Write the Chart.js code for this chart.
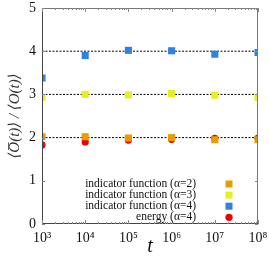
<!DOCTYPE html>
<html>
<head>
<meta charset="utf-8">
<script src="https://cdn.jsdelivr.net/npm/chart.js@4/dist/chart.umd.min.js"></script>
<style>
  html, body { margin: 0; padding: 0; background: #fff; }
  #wrap { width: 269px; height: 259px; }
</style>
</head>
<body>
<div id="wrap"><canvas id="c"></canvas></div>
<script>
// data
const times = [1e3, 1e4, 1e5, 1e6, 1e7, 1e8]
const indAlpha2 = [2.02, 2.02, 1.99, 2.00, 1.95, 1.95]
const indAlpha3 = [2.93, 3.00, 2.99, 3.02, 2.98, 2.93]
const indAlpha4 = [3.38, 3.90, 4.02, 4.01, 3.93, 3.97]
const energyAlpha4 = [1.83, 1.90, 1.94, 1.96, 1.98, 1.99]
const refLevels = [2, 3, 4]
const yTicks = [0, 1, 2, 3, 4, 5]
const sup = { 3: '³', 4: '⁴', 5: '⁵', 6: '⁶', 7: '⁷', 8: '⁸' }

const serif = "'Liberation Serif', 'DejaVu Serif', serif"

const series = [
    { label: 'indicator function (\u03b1=2)', data: indAlpha2, color: '#e99c00', style: 'rect', r: 5 },
    { label: 'indicator function (\u03b1=3)', data: indAlpha3, color: '#e6f01c', style: 'rect', r: 5 },
    { label: 'indicator function (\u03b1=4)', data: indAlpha4, color: '#2c82e6', style: 'rect', r: 5 },
    { label: 'energy (\u03b1=4)', data: energyAlpha4, color: '#f20000', style: 'circle', r: 3.6 }
]

const datasets = []
refLevels.forEach(level => {
    datasets.push({
        type: 'line',
        data: [{ x: times[0], y: level }, { x: times[times.length - 1], y: level }],
        borderColor: '#000',
        borderWidth: 1,
        borderDash: [2, 1.5],
        pointRadius: 0,
        order: 10
    })
})
series.forEach(s => {
    datasets.push({
        type: 'scatter',
        label: s.label,
        data: times.map((t, i) => ({ x: t, y: s.data[i] })),
        backgroundColor: s.color,
        borderColor: s.color,
        borderWidth: 0,
        pointStyle: s.style,
        pointRadius: s.r,
        order: 1
    })
})

// box, inner ticks and the legend in the lower right
const framePlugin = {
    id: 'frame',
    afterDraw(chart) {
        const { ctx, chartArea: a, scales } = chart
        const x = scales.x, y = scales.y
        ctx.save()
        ctx.lineWidth = 1
        ctx.strokeStyle = '#777'
        ctx.beginPath()
        ctx.moveTo(a.left, a.top + 0.5); ctx.lineTo(a.right, a.top + 0.5)
        ctx.moveTo(a.right - 0.5, a.top); ctx.lineTo(a.right - 0.5, a.bottom)
        ctx.stroke()
        ctx.strokeStyle = '#444'
        ctx.beginPath()
        ctx.moveTo(a.left + 0.5, a.top); ctx.lineTo(a.left + 0.5, a.bottom)
        ctx.moveTo(a.left, a.bottom - 0.5); ctx.lineTo(a.right, a.bottom - 0.5)
        ctx.stroke()

        ctx.strokeStyle = '#888'
        ctx.beginPath()
        for (let d = 3; d <= 8; d++) {
            for (let m = 1; m <= 9; m++) {
                const v = m * Math.pow(10, d)
                if (v > 1e8) break
                const px = Math.round(x.getPixelForValue(v)) + 0.5
                const len = m === 1 ? 4 : 2
                ctx.moveTo(px, a.bottom); ctx.lineTo(px, a.bottom - len)
                ctx.moveTo(px, a.top); ctx.lineTo(px, a.top + len)
            }
        }
        yTicks.forEach(v => {
            const py = Math.round(y.getPixelForValue(v)) + 0.5
            ctx.moveTo(a.left, py); ctx.lineTo(a.left + 3, py)
            ctx.moveTo(a.right, py); ctx.lineTo(a.right - 3, py)
        })
        ctx.stroke()

        // legend
        ctx.font = '11.5px ' + serif
        ctx.textAlign = 'right'
        ctx.textBaseline = 'middle'
        const textRight = a.left + 154
        const markX = a.left + 187
        series.forEach((s, i) => {
            const ty = a.bottom - 40 + i * 11.1
            ctx.fillStyle = '#111'
            ctx.fillText(s.label, textRight, ty)
            ctx.fillStyle = s.color
            if (s.style === 'rect') {
                ctx.fillRect(markX - 3.5, ty - 3.5, 7, 7)
            } else {
                ctx.beginPath()
                ctx.arc(markX, ty, 3.6, 0, Math.PI * 2)
                ctx.fill()
            }
        })
        ctx.restore()
    }
}

new Chart(document.getElementById('c'), {
    type: 'scatter',
    data: { datasets },
    plugins: [framePlugin],
    options: {
        responsive: true,
        maintainAspectRatio: false,
        animation: false,
        layout: { padding: { top: 8, right: 11, left: 0, bottom: 0 } },
        plugins: { legend: { display: false }, tooltip: { enabled: false } },
        scales: {
            x: {
                type: 'logarithmic',
                min: 1e3,
                max: 1e8,
                grid: { display: false, drawTicks: false },
                border: { display: false },
                afterFit: s => { s.height = 35; s.paddingLeft = 0; s.paddingRight = 0 },
                afterBuildTicks: s => { s.ticks = times.map(v => ({ value: v })) },
                ticks: {
                    autoSkip: false,
                    maxRotation: 0,
                    padding: 6,
                    color: '#111',
                    font: { family: serif, size: 14 },
                    callback: v => '10' + sup[Math.round(Math.log10(v))]
                },
                title: {
                    display: true,
                    text: 't',
                    color: '#111',
                    padding: { top: 0, bottom: 0 },
                    font: { family: serif, size: 20, style: 'italic' }
                }
            },
            y: {
                min: 0,
                max: 5,
                grid: { display: false, drawTicks: false },
                border: { display: false },
                afterFit: s => { s.width = 42; s.paddingTop = 0; s.paddingBottom = 0 },
                afterBuildTicks: s => { s.ticks = yTicks.map(v => ({ value: v })) },
                ticks: {
                    padding: 6,
                    color: '#111',
                    font: { family: serif, size: 14 }
                },
                title: {
                    display: true,
                    text: '\u27e8O\u0305(t)\u27e9 / \u27e8O(t)\u27e9',
                    color: '#333',
                    padding: { top: 6, bottom: 0 },
                    font: { family: serif, size: 15, style: 'italic' }
                }
            }
        }
    }
})
</script>
</body>
</html>
